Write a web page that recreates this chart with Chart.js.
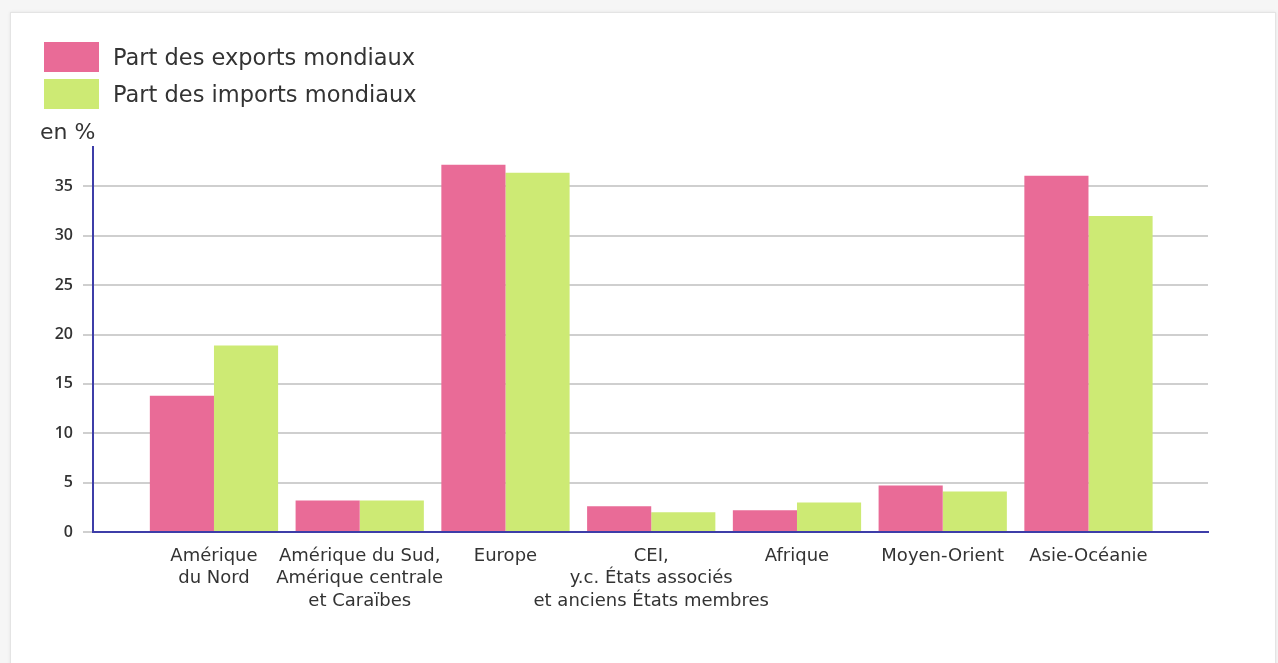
<!DOCTYPE html>
<html lang="fr">
<head>
<meta charset="utf-8">
<title>Part des exports et imports mondiaux</title>
<script src="https://cdn.jsdelivr.net/npm/chart.js@4"></script>
<style>
    body { margin: 0; background: #f6f6f6; font-family: "DejaVu Sans", sans-serif; color: #333; }
    .card { position: absolute; left: 10px; top: 12px; width: 1264px; height: 660px; background: #fff; border: 1px solid #e4e4e4; box-shadow: 0 0 3px rgba(0,0,0,0.08); }
    .wrap { position: absolute; left: 0; top: 0; width: 1278px; height: 663px; }
    .legend { position: absolute; left: 44px; top: 38px; }
    .legend div { display: flex; align-items: center; height: 37px; font-size: 22.5px; }
    .legend span.box { display: inline-block; width: 55px; height: 30px; margin-right: 14px; }
    .unit { position: absolute; left: 40px; top: 119px; font-size: 22px; }
</style>
</head>
<body>
<div class="card"></div>
<div class="wrap">
    <canvas id="trade-chart" width="1278" height="663"></canvas>
    <div class="legend" id="legend"></div>
    <div class="unit">en %</div>
</div>
<script>
// Régions (libellés sur plusieurs lignes)
const regions = [
    ['Amérique', 'du Nord'],
    ['Amérique du Sud,', 'Amérique centrale', 'et Caraïbes'],
    ['Europe'],
    ['CEI,', 'y.c. États associés', 'et anciens États membres'],
    ['Afrique'],
    ['Moyen-Orient'],
    ['Asie-Océanie']
];
const exportsShare = [13.8, 3.2, 37.2, 2.6, 2.2, 4.7, 36.1];
const importsShare = [18.9, 3.2, 36.4, 2.0, 3.0, 4.1, 32.0];
const yTicks = [0, 5, 10, 15, 20, 25, 30, 35];
const seriesLabels = ['Part des exports mondiaux', 'Part des imports mondiaux'];

const pink = '#e96b97';
const green = '#cdea74';
const axisBlue = '#3d3da8';

document.addEventListener('DOMContentLoaded', function() {
    const el = document.getElementById('trade-chart');

    const chart = new Chart(el, {
        type: 'bar',
        data: {
            datasets: [
                {
                    label: seriesLabels[0],
                    data: exportsShare.map((v, i) => ({ x: i, y: v })),
                    backgroundColor: pink
                },
                {
                    label: seriesLabels[1],
                    data: importsShare.map((v, i) => ({ x: i, y: v })),
                    backgroundColor: green
                }
            ]
        },
        options: {
            responsive: false,
            animation: false,
            categoryPercentage: 0.88,
            barPercentage: 1,
            layout: {
                padding: { top: 147, right: 70, bottom: 0, left: 0 }
            },
            scales: {
                x: {
                    type: 'linear',
                    offset: false,
                    min: -0.83,
                    max: 6.82,
                    afterBuildTicks: scale => {
                        scale.ticks = regions.map((r, i) => ({ value: i }));
                    },
                    afterFit: scale => { scale.height = 131; },
                    grid: { drawOnChartArea: false, drawTicks: false },
                    border: { color: axisBlue, width: 2 },
                    ticks: {
                        autoSkip: false,
                        maxRotation: 0,
                        padding: 13,
                        color: '#333',
                        font: { family: 'DejaVu Sans', size: 18, lineHeight: 1.25 },
                        callback: value => regions[value]
                    }
                },
                y: {
                    min: 0,
                    max: 39,
                    afterBuildTicks: scale => {
                        scale.ticks = yTicks.map(v => ({ value: v }));
                    },
                    afterFit: scale => { scale.width = 93; },
                    grid: { color: '#cfcfcf', lineWidth: 2, tickLength: 10 },
                    border: { color: axisBlue, width: 2 },
                    ticks: {
                        padding: 10,
                        color: '#333',
                        font: { family: 'Open Sans', size: 16, weight: '600' }
                    }
                }
            },
            plugins: {
                legend: { display: false },
                tooltip: { enabled: false }
            }
        }
    });

    // Légende HTML
    const legend = document.getElementById('legend');
    chart.data.datasets.forEach(ds => {
        const row = document.createElement('div');
        row.innerHTML = '<span class="box" style="background:' + ds.backgroundColor + '"></span>' + ds.label;
        legend.appendChild(row);
    });
});
</script>
</body>
</html>
